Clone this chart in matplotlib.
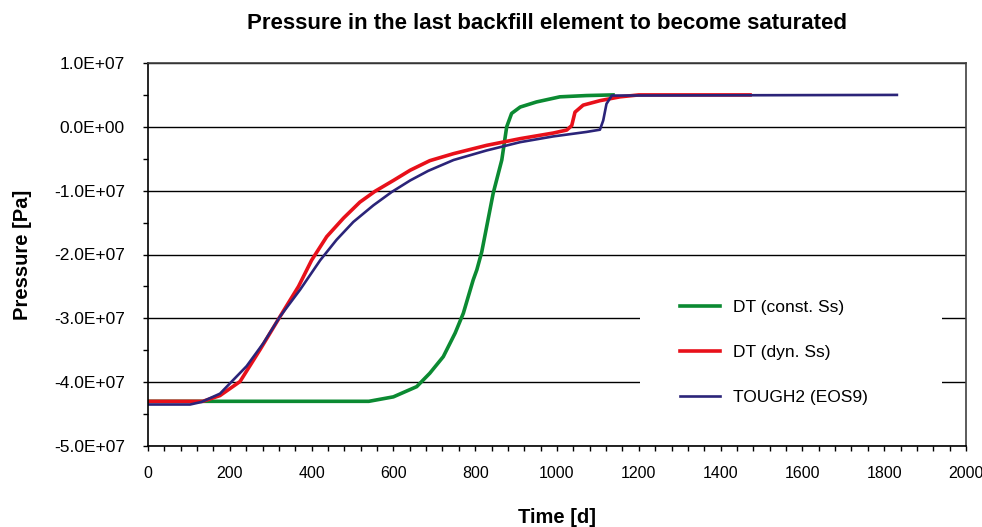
import matplotlib
matplotlib.use("Agg")
from matplotlib import pyplot as plt
from matplotlib.ticker import MultipleLocator, FuncFormatter

plt.rcParams["font.family"] = ["Liberation Sans", "DejaVu Sans"]

# DT (const. Ss)  -- pressure in units of 1e7 Pa
t_const = [0, 540, 600, 657, 689, 722, 751, 771, 795, 804, 816, 844, 865, 877,
           889, 910, 950, 1007, 1072, 1137]
p_const = [-4.3, -4.3, -4.23, -4.07, -3.86, -3.6, -3.23, -2.92, -2.4, -2.24, -1.96,
           -1.04, -0.52, 0.0, 0.21, 0.31, 0.39, 0.47, 0.49, 0.5]

# DT (dyn. Ss)
t_dyn = [0, 134, 176, 225, 274, 323, 368, 400, 437, 478, 518, 555, 600, 641, 689,
         747, 828, 910, 991, 1024, 1036, 1044, 1064, 1105, 1154, 1200, 1472]
p_dyn = [-4.3, -4.3, -4.21, -3.99, -3.49, -2.97, -2.5, -2.09, -1.72, -1.43, -1.18,
         -1.01, -0.84, -0.68, -0.53, -0.42, -0.29, -0.185, -0.097, -0.05, 0.02, 0.23,
         0.34, 0.41, 0.47, 0.5, 0.5]

# TOUGH2 (EOS9)
t_tough = [0, 103, 131, 176, 241, 282, 323, 372, 421, 461, 502, 551, 596, 641, 685,
           747, 828, 910, 991, 1072, 1105, 1113, 1121, 1134, 1831]
p_tough = [-4.35, -4.35, -4.31, -4.18, -3.75, -3.39, -2.97, -2.55, -2.09, -1.77,
           -1.49, -1.23, -1.02, -0.84, -0.69, -0.52, -0.37, -0.24, -0.15, -0.08,
           -0.045, 0.1, 0.36, 0.49, 0.5]

labels = ["DT (const. Ss)", "DT (dyn. Ss)", "TOUGH2 (EOS9)"]

fig = plt.figure(figsize=(9.82, 5.27), dpi=100)
ax = fig.add_axes([148 / 982, 81 / 527, 818 / 982, 383 / 527])

ax.plot(t_const, [v * 1e7 for v in p_const], color="#0b8a32", lw=2.6, label=labels[0])
ax.plot(t_dyn, [v * 1e7 for v in p_dyn], color="#e8101a", lw=2.6, label=labels[1])
ax.plot(t_tough, [v * 1e7 for v in p_tough], color="#2b2479", lw=1.9, label=labels[2])

ax.set_xlim(0, 2000)
ax.set_ylim(-5e7, 1e7)
ax.xaxis.set_major_locator(MultipleLocator(200))
ax.xaxis.set_minor_locator(MultipleLocator(40))
ax.yaxis.set_major_locator(MultipleLocator(1e7))
ax.yaxis.set_minor_locator(MultipleLocator(5e6))
ax.yaxis.set_major_formatter(FuncFormatter(lambda v, pos: "%.1E" % v))

ax.tick_params(which="both", direction="out", length=3.6, width=1)
ax.tick_params(axis="x", labelsize=11.5, pad=11)
ax.tick_params(axis="y", labelsize=12.5, pad=13)
ax.grid(axis="y", which="major", color="black", lw=1)
ax.set_axisbelow(True)

for side in ["left", "bottom"]:
    ax.spines[side].set_color("black")
    ax.spines[side].set_linewidth(1.2)
for side in ["top", "right"]:
    ax.spines[side].set_color("#404040")
    ax.spines[side].set_linewidth(1.2)

ax.set_xlabel("Time [d]", fontsize=14.5, fontweight="bold")
ax.set_ylabel("Pressure [Pa]", fontsize=14.5, fontweight="bold")
ax.xaxis.set_label_coords(0.5, -0.162)
ax.yaxis.set_label_coords(-0.1418, 0.5)
fig.text(547 / 982, 1 - 23.5 / 527, "Pressure in the last backfill element to become saturated",
         ha="center", va="center", fontsize=16, fontweight="bold")

leg = ax.legend(loc="upper left", bbox_to_anchor=(0.6015, 0.0, 0.369, 0.486),
                mode="expand", borderaxespad=0, fontsize=12.5, frameon=True,
                facecolor="white", edgecolor="white", framealpha=1, fancybox=False,
                borderpad=2.3, labelspacing=1.72, handlelength=2.3, handletextpad=0.75)
leg.get_frame().set_linewidth(0)

fig.savefig("out.png", dpi=100)
